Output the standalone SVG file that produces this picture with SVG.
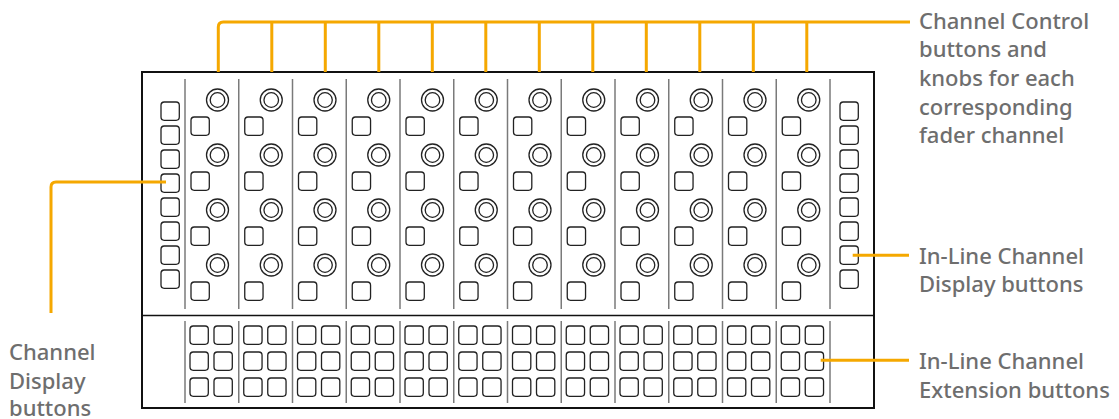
<svg xmlns="http://www.w3.org/2000/svg" width="1119" height="419" viewBox="0 0 1119 419">
<style>
.box{fill:#fff;stroke:#111;stroke-width:2}
.sep{stroke:#111;stroke-width:1.3}
.div{stroke:#7a7a7a;stroke-width:1.5}
.btn{fill:#fff;stroke:#222;stroke-width:1.3}
.knob{fill:none;stroke:#222;stroke-width:1.3}
.ln{fill:none;stroke:#F5A800;stroke-width:3;stroke-linejoin:round}
.lbl{font-family:"Noto Sans","Open Sans",sans-serif;font-size:22px;font-weight:500;fill:#6e6e6e}
</style>
<defs>
<rect id="b" class="btn" width="18.3" height="18.3" rx="3.2"/>
<g id="k"><circle class="knob" r="11"/><circle class="knob" r="7.3"/></g>
<g id="ch">
<line class="div" x1="0" y1="79" x2="0" y2="309"/>
<use href="#k" x="32.5" y="100"/><use href="#b" x="6" y="117"/>
<use href="#k" x="32.5" y="155"/><use href="#b" x="6" y="172"/>
<use href="#k" x="32.5" y="210"/><use href="#b" x="6" y="227"/>
<use href="#k" x="32.5" y="265"/><use href="#b" x="6" y="282"/>
<line class="div" x1="0" y1="321" x2="0" y2="403"/>
<use href="#b" x="5" y="326"/><use href="#b" x="29" y="326"/>
<use href="#b" x="5" y="352"/><use href="#b" x="29" y="352"/>
<use href="#b" x="5" y="378"/><use href="#b" x="29" y="378"/>
</g>
<g id="col8">
<use href="#b" y="102"/><use href="#b" y="126"/><use href="#b" y="150"/><use href="#b" y="174"/>
<use href="#b" y="198"/><use href="#b" y="222"/><use href="#b" y="246"/><use href="#b" y="270"/>
</g>
</defs>
<g id="panel">
<rect class="box" x="142" y="72" width="732" height="336"/>
<line class="sep" x1="142" y1="315.5" x2="874" y2="315.5"/>
</g>
<g id="channel-display-buttons"><use href="#col8" x="161"/></g>
<g id="channels">
<use href="#ch" x="185"/><use href="#ch" x="238.75"/><use href="#ch" x="292.5"/><use href="#ch" x="346.25"/>
<use href="#ch" x="400"/><use href="#ch" x="453.75"/><use href="#ch" x="507.5"/><use href="#ch" x="561.25"/>
<use href="#ch" x="615"/><use href="#ch" x="668.75"/><use href="#ch" x="722.5"/><use href="#ch" x="776.25"/>
<line class="div" x1="830" y1="79" x2="830" y2="309"/>
<line class="div" x1="830" y1="321" x2="830" y2="403"/>
</g>
<g id="inline-display-buttons"><use href="#col8" x="840"/></g>
<g id="connectors">
<path class="ln" d="M218.3 72 V27 Q218.3 22 223.3 22 H910"/>
<path class="ln" d="M271.8 22 V72 M325.3 22 V72 M378.8 22 V72 M432.3 22 V72 M485.8 22 V72 M539.3 22 V72 M592.8 22 V72 M646.3 22 V72 M699.8 22 V72 M753.3 22 V72 M806.8 22 V72"/>
<path class="ln" d="M166 182 H56 Q51 182 51 187 V313"/>
<path class="ln" d="M852.7 255.3 H909"/>
<path class="ln" d="M820.7 360.3 H909"/>
</g>
<g id="labels">
<text class="lbl" x="919" y="28.5">Channel Control</text>
<text class="lbl" x="919" y="57">buttons and</text>
<text class="lbl" x="919" y="86">knobs for each</text>
<text class="lbl" x="919" y="114.5">corresponding</text>
<text class="lbl" x="919" y="143">fader channel</text>
<text class="lbl" x="919" y="263.5">In-Line Channel</text>
<text class="lbl" x="919" y="292">Display buttons</text>
<text class="lbl" x="919" y="368.5">In-Line Channel</text>
<text class="lbl" x="919" y="397.5">Extension buttons</text>
<text class="lbl" x="9" y="360">Channel</text>
<text class="lbl" x="9" y="388.5">Display</text>
<text class="lbl" x="9" y="416">buttons</text>
</g>
</svg>
